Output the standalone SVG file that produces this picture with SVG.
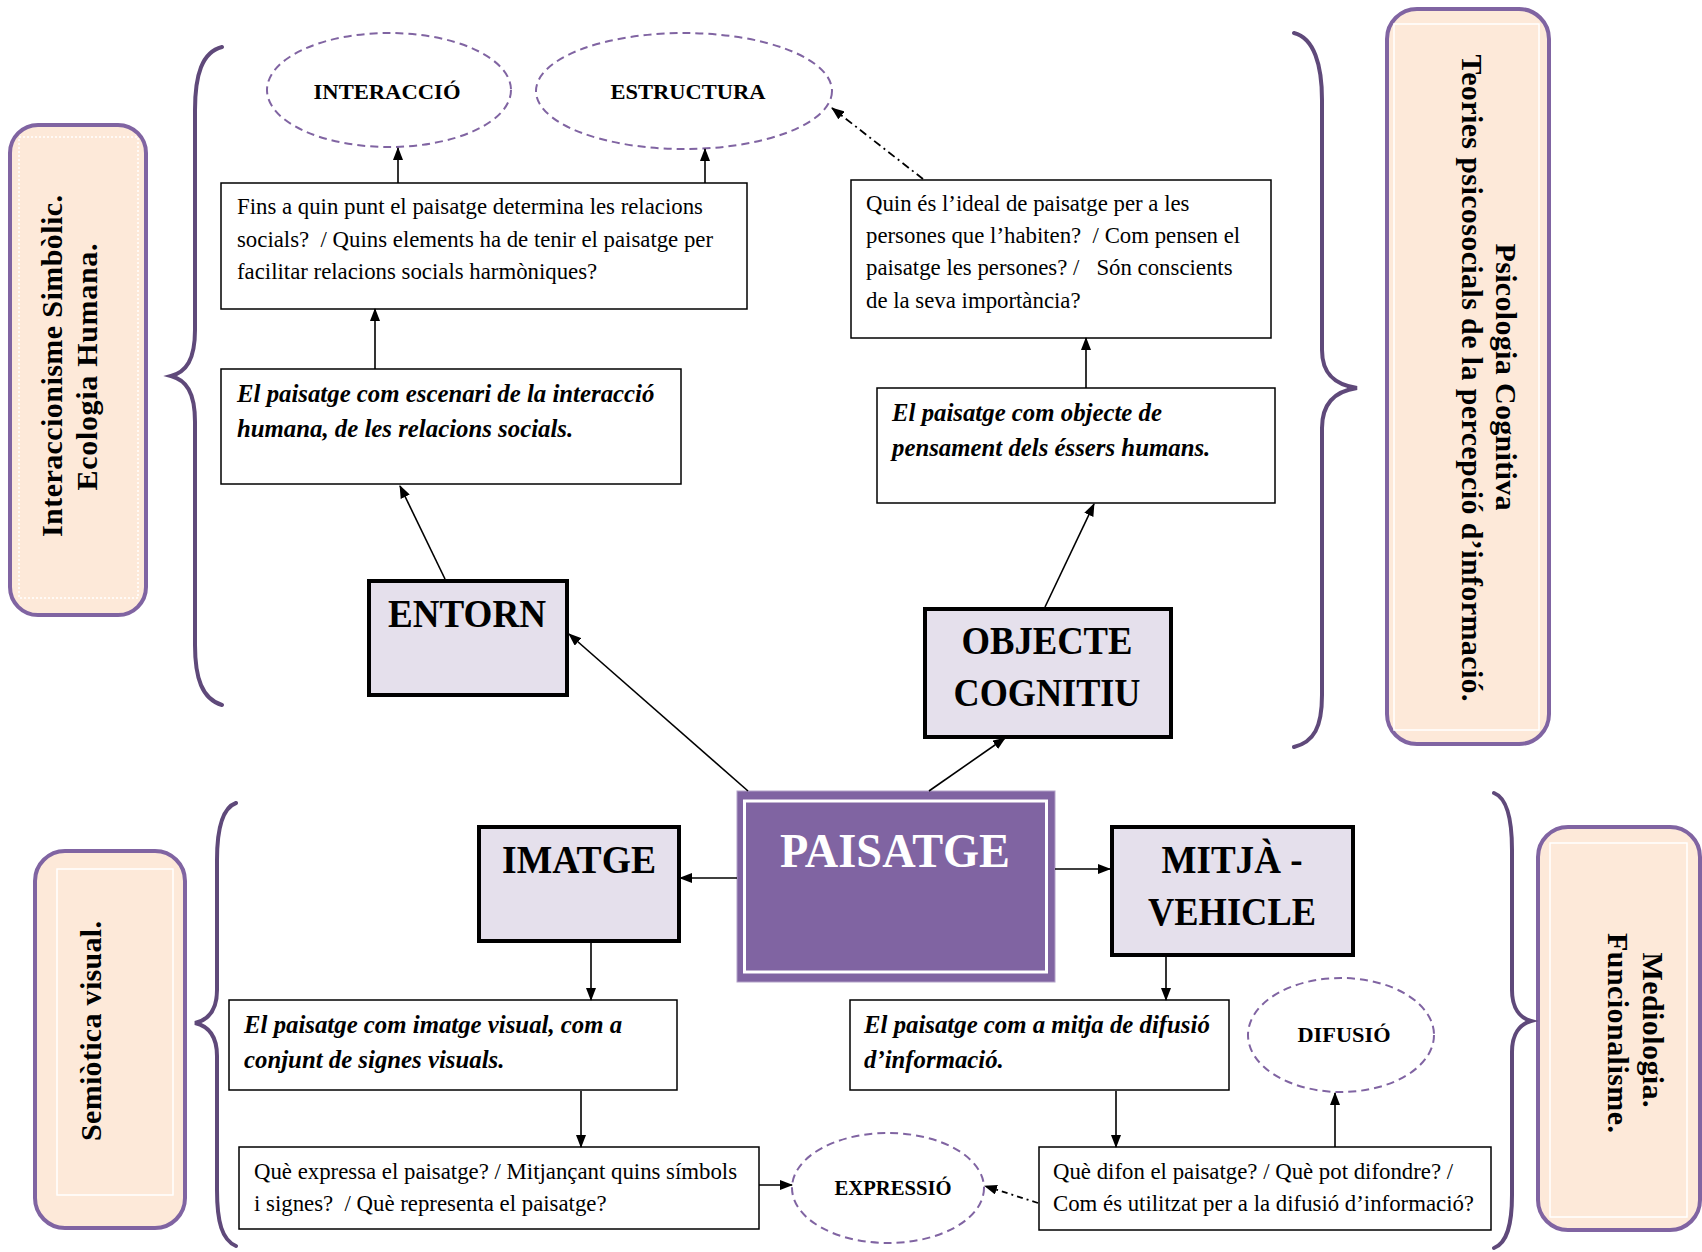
<svg xmlns="http://www.w3.org/2000/svg" width="1702" height="1252" viewBox="0 0 1702 1252">
<style>
.side{fill:#FDE9D9;stroke:#8064A2;stroke-width:4}
.inner{fill:none;stroke:#FFFFFF;stroke-width:1.5}
.brace{fill:none;stroke:#5F497A;stroke-width:4;stroke-linecap:round}
.sl{font-family:"Liberation Serif","Times New Roman",serif;font-weight:bold;font-size:30px;fill:#000;text-anchor:middle}
.box{fill:#FFFFFF;stroke:#000;stroke-width:1.5}
.node{fill:#E5E0EC;stroke:#000;stroke-width:4}
.ell{fill:#FFFFFF;stroke:#8064A2;stroke-width:2;stroke-dasharray:8 5}
.t{font-family:"Liberation Serif","Times New Roman",serif;font-size:22.8px;fill:#000;white-space:pre}
.bi{font-family:"Liberation Serif","Times New Roman",serif;font-size:24.8px;font-weight:bold;font-style:italic;fill:#000}
.nl{font-family:"Liberation Serif","Times New Roman",serif;font-size:39px;font-weight:bold;fill:#000;text-anchor:middle}
.el{font-family:"Liberation Serif","Times New Roman",serif;font-size:22px;font-weight:bold;fill:#000;text-anchor:middle}
.c{fill:none;stroke:#000;stroke-width:1.6}
.dd{fill:none;stroke:#000;stroke-width:1.8;stroke-dasharray:8 4 2 4}
.dot{fill:none;stroke:#000;stroke-width:1.8;stroke-dasharray:6 4 2 4}
</style>
<defs>
<marker id="ah" markerUnits="userSpaceOnUse" markerWidth="13" markerHeight="10" refX="12" refY="5" orient="auto">
<path d="M0,0 L13,5 L0,10 z" fill="#000"/>
</marker>
</defs>
<rect width="1702" height="1252" fill="#FFFFFF"/>

<g id="side-interaccionisme">
<rect class="side" x="10" y="125" width="136" height="490" rx="28"/>
<rect class="inner" x="19" y="137" width="119" height="461" stroke-dasharray="2 2"/>
<text class="sl" transform="translate(62,366) rotate(-90)" textLength="342" lengthAdjust="spacing">Interaccionisme Simbòlic.</text>
<text class="sl" transform="translate(97,367) rotate(-90)" textLength="247" lengthAdjust="spacing">Ecologia Humana.</text>
</g>

<g id="side-psicologia">
<rect class="side" x="1387" y="9" width="162" height="735" rx="30"/>
<rect class="inner" x="1394" y="24" width="145" height="706"/>
<text class="sl" transform="translate(1496,377) rotate(90)" textLength="267" lengthAdjust="spacing">Psicologia Cognitiva</text>
<text class="sl" transform="translate(1462,378) rotate(90)" textLength="647" lengthAdjust="spacing">Teories psicosocials de la percepció d’informació.</text>
</g>

<g id="side-semiotica">
<rect class="side" x="35" y="851" width="150" height="377" rx="30"/>
<rect class="inner" x="57" y="869" width="116" height="326"/>
<text class="sl" transform="translate(101,1031) rotate(-90)" textLength="220" lengthAdjust="spacing">Semiòtica visual.</text>
</g>

<g id="side-mediologia">
<rect class="side" x="1538" y="827" width="162" height="403" rx="30"/>
<rect class="inner" x="1550" y="843" width="137" height="374"/>
<text class="sl" transform="translate(1643,1030) rotate(90)" textLength="155" lengthAdjust="spacing">Mediologia.</text>
<text class="sl" transform="translate(1608,1033) rotate(90)" textLength="200" lengthAdjust="spacing">Funcionalisme.</text>
</g>

<g id="braces">
<path class="brace" d="M222,47 C202,52 195,75 195,110 L195,330 C195,360 186,372 171,376 C186,380 195,392 195,422 L195,645 C195,678 202,699 222,705"/>
<path class="brace" d="M1294,33 C1314,38 1322,65 1322,100 L1322,350 C1322,375 1336,385 1357,388 C1336,391 1322,402 1322,428 L1322,695 C1322,727 1314,742 1294,747"/>
<path class="brace" d="M236,803 C222,808 217,830 217,860 L217,990 C217,1010 208,1020 195,1023 C208,1026 217,1036 217,1056 L217,1190 C217,1222 222,1240 236,1246"/>
<path class="brace" d="M1494,793 C1507,798 1512,820 1512,850 L1512,990 C1512,1008 1520,1018 1531,1021 C1520,1024 1512,1034 1512,1052 L1512,1195 C1512,1225 1507,1243 1494,1248"/>
</g>

<g id="interaccio">
<ellipse class="ell" cx="389" cy="90" rx="122" ry="57"/>
<text class="el" x="387" y="99" textLength="147" lengthAdjust="spacingAndGlyphs">INTERACCIÓ</text>
</g>
<g id="estructura">
<ellipse class="ell" cx="684" cy="91" rx="148" ry="58"/>
<text class="el" x="688" y="99" textLength="155" lengthAdjust="spacingAndGlyphs">ESTRUCTURA</text>
</g>
<g id="expressio">
<ellipse class="ell" cx="888" cy="1188" rx="96" ry="55"/>
<text class="el" x="893" y="1195" textLength="117" lengthAdjust="spacingAndGlyphs">EXPRESSIÓ</text>
</g>
<g id="difusio">
<ellipse class="ell" cx="1341" cy="1035" rx="93" ry="57"/>
<text class="el" x="1344" y="1042" textLength="93" lengthAdjust="spacingAndGlyphs">DIFUSIÓ</text>
</g>

<g id="q-entorn">
<rect class="box" x="221" y="183" width="526" height="126"/>
<text class="t" x="237" y="214">Fins a quin punt el paisatge determina les relacions</text>
<text class="t" x="237" y="247">socials?  / Quins elements ha de tenir el paisatge per</text>
<text class="t" x="237" y="279">facilitar relacions socials harmòniques?</text>
</g>
<g id="d-entorn">
<rect class="box" x="221" y="369" width="460" height="115"/>
<text class="bi" x="237" y="402">El paisatge com escenari de la interacció</text>
<text class="bi" x="237" y="437">humana, de les relacions socials.</text>
</g>
<g id="q-objecte">
<rect class="box" x="851" y="180" width="420" height="158"/>
<text class="t" x="866" y="211">Quin és l’ideal de paisatge per a les</text>
<text class="t" x="866" y="243">persones que l’habiten?  / Com pensen el</text>
<text class="t" x="866" y="275">paisatge les persones? /   Són conscients</text>
<text class="t" x="866" y="308">de la seva importància?</text>
</g>
<g id="d-objecte">
<rect class="box" x="877" y="388" width="398" height="115"/>
<text class="bi" x="892" y="421">El paisatge com objecte de</text>
<text class="bi" x="892" y="456">pensament dels éssers humans.</text>
</g>
<g id="d-imatge">
<rect class="box" x="229" y="1000" width="448" height="90"/>
<text class="bi" x="244" y="1033">El paisatge com imatge visual, com a</text>
<text class="bi" x="244" y="1068">conjunt de signes visuals.</text>
</g>
<g id="q-imatge">
<rect class="box" x="239" y="1147" width="520" height="82"/>
<text class="t" x="254" y="1179">Què expressa el paisatge? / Mitjançant quins símbols</text>
<text class="t" x="254" y="1211">i signes?  / Què representa el paisatge?</text>
</g>
<g id="d-mitja">
<rect class="box" x="850" y="1000" width="379" height="90"/>
<text class="bi" x="864" y="1033">El paisatge com a mitja de difusió</text>
<text class="bi" x="864" y="1068">d’informació.</text>
</g>
<g id="q-mitja">
<rect class="box" x="1039" y="1147" width="452" height="83"/>
<text class="t" x="1053" y="1179">Què difon el paisatge? / Què pot difondre? /</text>
<text class="t" x="1053" y="1211">Com és utilitzat per a la difusió d’informació?</text>
</g>

<g id="entorn">
<rect class="node" x="369" y="581" width="198" height="114"/>
<text class="nl" x="467" y="627" textLength="158" lengthAdjust="spacingAndGlyphs">ENTORN</text>
</g>
<g id="objecte">
<rect class="node" x="925" y="609" width="246" height="128"/>
<text class="nl" x="1047" y="654" textLength="171" lengthAdjust="spacingAndGlyphs">OBJECTE</text>
<text class="nl" x="1047" y="706" textLength="187" lengthAdjust="spacingAndGlyphs">COGNITIU</text>
</g>
<g id="imatge">
<rect class="node" x="479" y="827" width="200" height="114"/>
<text class="nl" x="579" y="873" textLength="154" lengthAdjust="spacingAndGlyphs">IMATGE</text>
</g>
<g id="mitja">
<rect class="node" x="1112" y="827" width="241" height="128"/>
<text class="nl" x="1232" y="873" textLength="141" lengthAdjust="spacingAndGlyphs">MITJÀ -</text>
<text class="nl" x="1232" y="925" textLength="168" lengthAdjust="spacingAndGlyphs">VEHICLE</text>
</g>
<g id="paisatge">
<rect x="737" y="791" width="318" height="191" fill="#8064A2" stroke="#B2A1C7" stroke-width="1"/>
<rect x="744.5" y="801" width="302" height="171" fill="none" stroke="#FFFFFF" stroke-width="3"/>
<text x="895" y="867" font-family="Liberation Serif, Times New Roman, serif" font-size="48" font-weight="bold" fill="#FFFFFF" text-anchor="middle" textLength="230" lengthAdjust="spacingAndGlyphs">PAISATGE</text>
</g>

<g id="connectors">
<line class="c" x1="398" y1="183" x2="398" y2="148" marker-end="url(#ah)"/>
<line class="c" x1="705" y1="183" x2="705" y2="149" marker-end="url(#ah)"/>
<line class="c" x1="375" y1="369" x2="375" y2="309" marker-end="url(#ah)"/>
<line class="c" x1="445" y1="579" x2="400" y2="486" marker-end="url(#ah)"/>
<line class="c" x1="748" y1="791" x2="569" y2="634" marker-end="url(#ah)"/>
<line class="c" x1="1045" y1="607" x2="1094" y2="504" marker-end="url(#ah)"/>
<line class="c" x1="929" y1="791" x2="1005" y2="738" marker-end="url(#ah)"/>
<line class="c" x1="1086" y1="388" x2="1086" y2="338" marker-end="url(#ah)"/>
<line class="dd" x1="923" y1="179" x2="832" y2="108" marker-end="url(#ah)"/>
<line class="c" x1="737" y1="878" x2="680" y2="878" marker-end="url(#ah)"/>
<line class="c" x1="1055" y1="869" x2="1110" y2="869" marker-end="url(#ah)"/>
<line class="c" x1="591" y1="943" x2="591" y2="1000" marker-end="url(#ah)"/>
<line class="c" x1="581" y1="1091" x2="581" y2="1147" marker-end="url(#ah)"/>
<line class="c" x1="759" y1="1185" x2="792" y2="1185" marker-end="url(#ah)"/>
<line class="c" x1="1166" y1="957" x2="1166" y2="1000" marker-end="url(#ah)"/>
<line class="c" x1="1116" y1="1091" x2="1116" y2="1147" marker-end="url(#ah)"/>
<line class="c" x1="1335" y1="1147" x2="1335" y2="1093" marker-end="url(#ah)"/>
<line class="dot" x1="1038" y1="1203" x2="985" y2="1186" marker-end="url(#ah)"/>
</g>
</svg>
